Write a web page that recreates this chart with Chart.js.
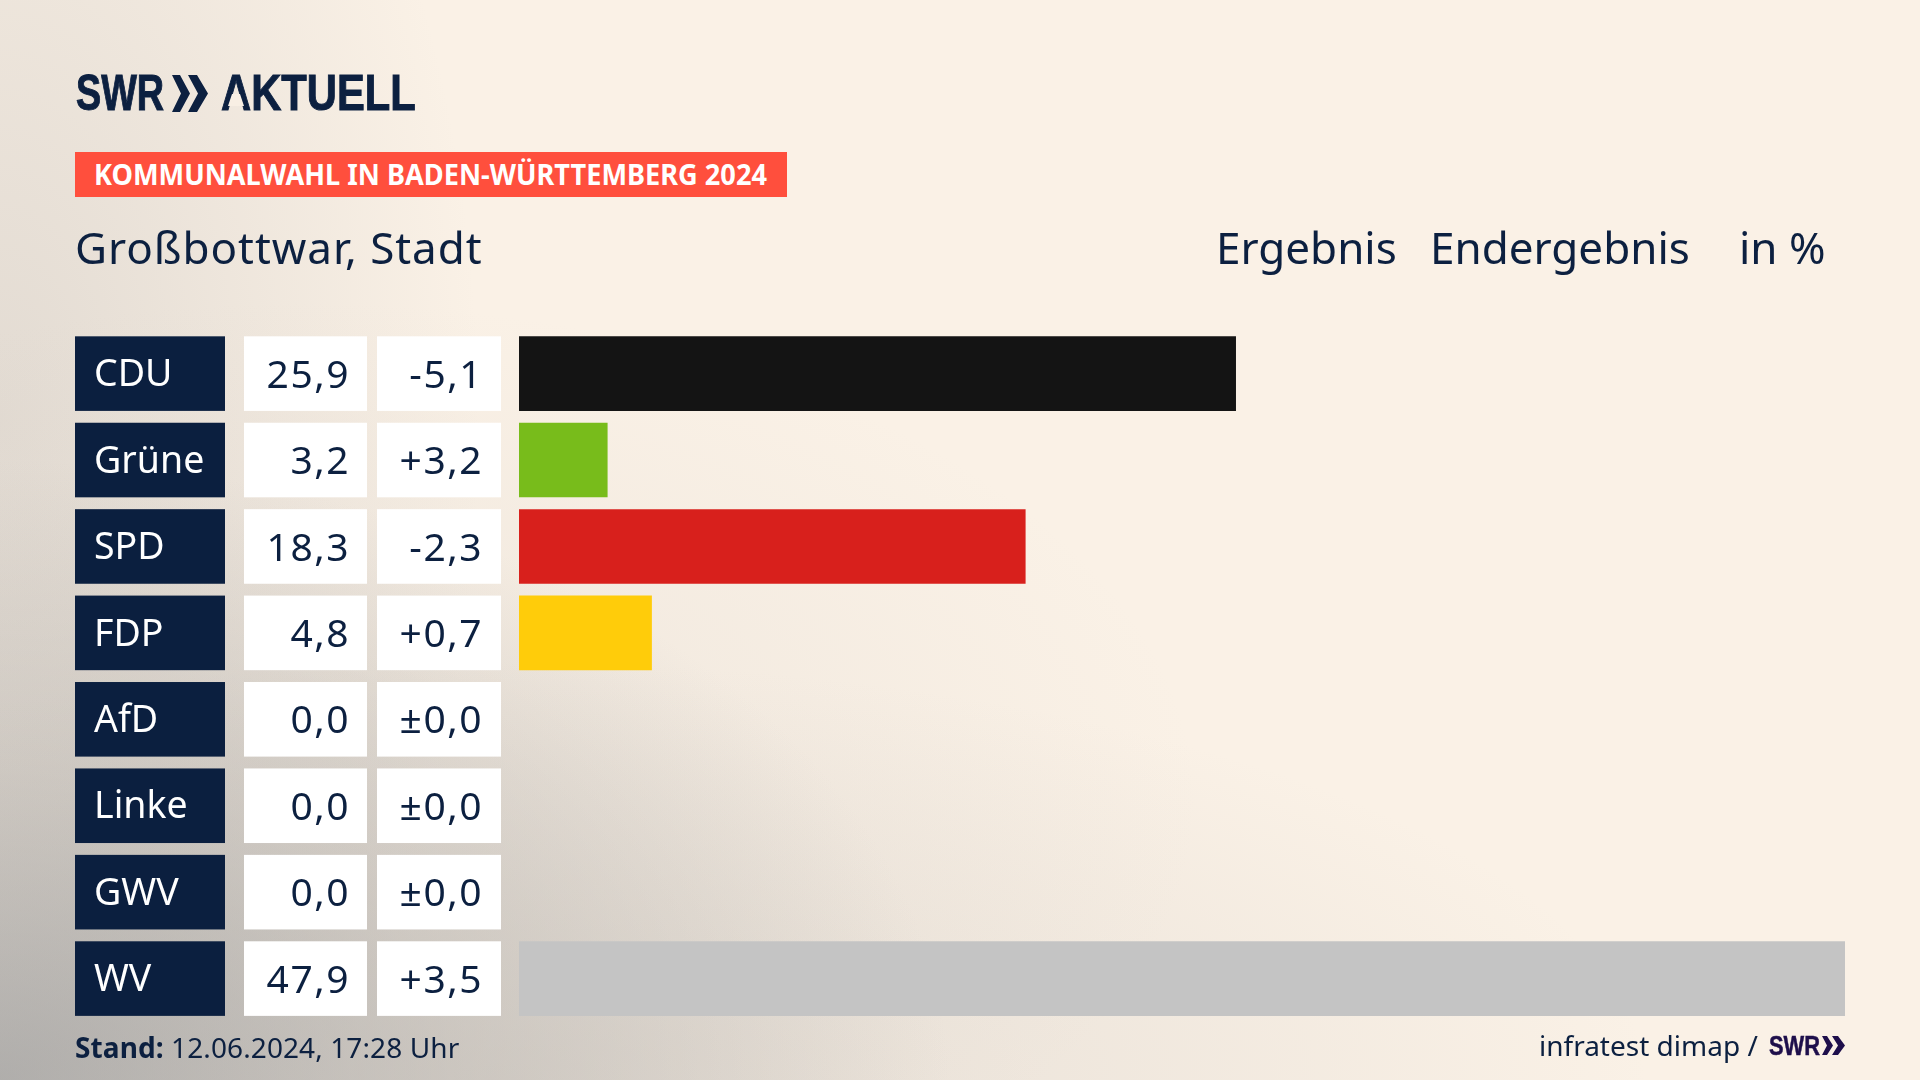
<!DOCTYPE html>
<html lang="de">
<head>
<meta charset="utf-8">
<title>Kommunalwahl Großbottwar</title>
<script src="https://cdn.jsdelivr.net/npm/chart.js@4"></script>
<style>
  html, body { margin: 0; padding: 0; }
  body {
    width: 1920px; height: 1080px; overflow: hidden; position: relative;
    color: #0c2040; font-family: "Noto Sans", sans-serif;
    background:
      radial-gradient(ellipse 950px 620px at 0px 1080px, rgba(155,155,155,.72) 0, rgba(175,172,168,.42) 50%, rgba(200,195,190,0) 100%),
      radial-gradient(ellipse 1150px 420px at 500px 1080px, rgba(190,185,180,.35) 0, rgba(190,185,180,0) 100%),
      radial-gradient(ellipse 900px 500px at 300px 800px, rgba(200,195,190,.25) 0, rgba(200,195,190,0) 100%),
      radial-gradient(ellipse 480px 900px at 0px 420px, rgba(190,185,180,.4) 0, rgba(190,185,180,0) 100%),
      #faf1e6;
  }
  #chart { position: absolute; left: 0; top: 0; }
  .t { position: absolute; white-space: nowrap; transform-origin: left center; line-height: 1; }
  .logo { font-family: "Liberation Sans", sans-serif; font-weight: 700; -webkit-text-stroke: 1px currentColor; }
  #banner { position: absolute; left: 75px; top: 152px; width: 712px; height: 45px; background: #ff4f3d; }
  svg { position: absolute; }
</style>
</head>
<body>
<canvas id="chart" width="1920" height="1080"></canvas>

<div class="t logo" style="left:76px;top:68px;font-size:50px;transform:scaleX(.755)">SWR</div>
<svg style="left:172px;top:75px" width="36" height="37" viewBox="0 0 36 37"><path d="M0 0h8l10 18.5L8 37H0l9-18.5zM16 0h9l11 18.5L25 37h-9l10-18.5z" fill="#0c2040"/></svg>
<div class="t logo" style="left:221px;top:68px;font-size:50px;transform:scaleX(.835)">AKTUELL</div>
<!-- logo's A has no crossbar -->
<svg style="left:226px;top:94px" width="20" height="12" viewBox="0 0 20 12"><path d="M6 0h8l4 12H2z" fill="#f8efe4"/></svg>

<div id="banner"></div>
<div class="t" style="left:94px;top:160px;font-size:28px;font-weight:700;color:#fff;transform:scaleX(.97)">KOMMUNALWAHL IN BADEN-WÜRTTEMBERG 2024</div>

<div class="t" style="left:75px;top:225px;font-size:44px;letter-spacing:.95px">Großbottwar, Stadt</div>
<div class="t" style="left:1216px;top:225px;font-size:44px">Ergebnis</div>
<div class="t" style="left:1430px;top:225px;font-size:44px">Endergebnis</div>
<div class="t" style="left:1739px;top:225px;font-size:44px">in %</div>

<div class="t" style="left:75px;top:1033px;font-size:28px;letter-spacing:.1px"><b>Stand:</b> 12.06.2024, 17:28 Uhr</div>
<div class="t" style="left:1539px;top:1031px;font-size:28px">infratest dimap /</div>
<div class="t logo" style="left:1769px;top:1033px;font-size:27px;color:#1e0f4b;transform:scaleX(.81);-webkit-text-stroke:.5px #1e0f4b">SWR</div>
<svg style="left:1822px;top:1036px" width="23" height="19" viewBox="0 0 23 19"><path d="M0 0h5l6 9.5L5 19H0l5-9.5zM10 0h6l7 9.5L16 19h-6l6-9.5z" fill="#1e0f4b"/></svg>

<script>
const parties = ['CDU', 'Grüne', 'SPD', 'FDP', 'AfD', 'Linke', 'GWV', 'WV'];
const shares = [25.9, 3.2, 18.3, 4.8, 0.0, 0.0, 0.0, 47.9];
const changes = [-5.1, 3.2, -2.3, 0.7, 0.0, 0.0, 0.0, 3.5];
const barColors = ['#141414', '#78bc1b', '#d8201c', '#ffcc0a', '#0a9fe0', '#c0007a', '#c4c4c4', '#c4c4c4'];

const NAVY = '#0b1f3f';
const INK = '#0c2040';

function formatShare(v) {
    return v.toFixed(1).replace('.', ',');
}

function formatChange(v) {
    if (v === 0) return '±0,0';
    return (v > 0 ? '+' : '-') + Math.abs(v).toFixed(1).replace('.', ',');
}

// navy party boxes and white value cells sit behind the axis labels
const rowCells = {
    id: 'rowCells',
    beforeDraw(chart) {
        const { ctx, scales: { y } } = chart;
        const h = chart.getDatasetMeta(0).data[0].height;
        parties.forEach((p, i) => {
            const top = y.getPixelForTick(i) - h / 2;
            ctx.fillStyle = NAVY;
            ctx.fillRect(75, top, 150, h);
            ctx.fillStyle = '#fff';
            ctx.fillRect(244, top, 123, h);
            ctx.fillRect(377, top, 124, h);
        });
    },
    afterDraw(chart) {
        const { ctx, scales: { y } } = chart;
        ctx.save();
        ctx.fillStyle = INK;
        ctx.font = '39px "Noto Sans"';
        ctx.letterSpacing = '1.5px';
        ctx.textAlign = 'right';
        ctx.textBaseline = 'middle';
        parties.forEach((p, i) => {
            const cy = y.getPixelForTick(i) + 3;
            ctx.fillText(formatShare(shares[i]), 350, cy);
            ctx.fillText(formatChange(changes[i]), 483, cy);
        });
        ctx.restore();
    }
};

new Chart(document.getElementById('chart'), {
    type: 'bar',
    data: {
        labels: parties,
        datasets: [{
            data: shares,
            backgroundColor: barColors,
            borderWidth: 0,
            barPercentage: 1,
            categoryPercentage: 0.863
        }]
    },
    options: {
        indexAxis: 'y',
        responsive: false,
        animation: false,
        devicePixelRatio: 1,
        layout: { padding: { left: 94, right: 75, top: 330.4, bottom: 58.2 } },
        plugins: { legend: { display: false }, tooltip: { enabled: false } },
        scales: {
            x: { display: false, min: 0, max: 47.9 },
            y: {
                afterFit(scale) { scale.width = 425; },
                border: { display: false },
                grid: { display: false },
                ticks: {
                    color: '#ffffff',
                    crossAlign: 'far',
                    autoSkip: false,
                    // empty first line with a small line height nudges the label down 2px
                    callback(value) { return ['', parties[value]]; },
                    font: { family: '"Noto Sans"', size: 37.5, lineHeight: '4px' }
                }
            }
        }
    },
    plugins: [rowCells]
});
</script>
</body>
</html>
